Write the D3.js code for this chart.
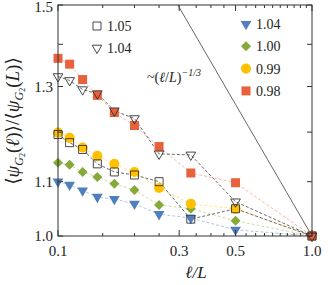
<!DOCTYPE html>
<html>
<head>
<meta charset="utf-8">
<script src="https://cdn.jsdelivr.net/npm/d3@7"></script>
<style>
  body { margin: 0; background: #fff; }
  text { font-family: "Liberation Serif", "DejaVu Serif", serif; fill: #222; }
</style>
</head>
<body>
<script>
// l/L values shared by every series
const ratios = [1/10, 1/9, 1/8, 1/7, 1/6, 1/5, 1/4, 1/3, 1/2, 1];

// filled series
const s098 = [1.366, 1.352, 1.316, 1.280, 1.242, 1.214, 1.170, 1.117, 1.098, 1.0];
const s099 = [1.199, 1.188, 1.168, 1.151, 1.135, 1.119, 1.088, 1.058, 1.049, 1.0];
const s100 = [1.137, 1.133, 1.119, 1.109, 1.096, 1.084, 1.056, 1.049, 1.027, 1.0];
const s104 = [1.100, 1.094, 1.083, 1.071, 1.067, 1.058, 1.039, 1.032, 1.011, 1.0];
// open series
const o105 = [1.195, 1.178, 1.164, 1.135, 1.119, 1.113, 1.100, 1.030, 1.049, 1.0];
const o104 = [1.323, 1.314, 1.293, 1.284, 1.246, 1.229, 1.155, 1.153, 1.062, 1.0];

const xTickLabels = [0.1, 0.3, 0.5, 1.0];
const yTickLabels = [1.0, 1.1, 1.3, 1.5];
const yTicks = [1.0, 1.1, 1.2, 1.3, 1.4, 1.5];
const xMinor = d3.range(0.1, 1.0001, 0.05);

const width = 328, height = 285;
const margin = {top: 5, right: 16, bottom: 49, left: 58};

const svg = d3.select("body").append("svg")
    .attr("width", width)
    .attr("height", height);

const x = d3.scaleLog().domain([0.1, 1]).range([margin.left, width - margin.right]);
const y = d3.scaleLog().domain([1, 1.5]).range([height - margin.bottom, margin.top]);

const series = [
  {vals: s104, sym: "tri", fill: "#4f7fbd", line: "#9bb7dc", open: false},
  {vals: s100, sym: "diamond", fill: "#87a93a", line: "#c3d68c", open: false},
  {vals: s099, sym: "circle", fill: "#ffc000", line: "#ffd970", open: false},
  {vals: s098, sym: "square", fill: "#e8603c", line: "#f3a88f", open: false},
  {vals: o105, sym: "square", fill: "#fff", line: "#444", open: true},
  {vals: o104, sym: "tri", fill: "#fff", line: "#444", open: true}
];

function marker(sel, sym, fill, open) {
  if (sym === "square") {
    sel.append("path").attr("d", d3.symbol(d3.symbolSquare, open ? 64 : 81)());
  } else if (sym === "circle") {
    sel.append("path").attr("d", d3.symbol(d3.symbolCircle, 80)());
  } else if (sym === "diamond") {
    sel.append("path").attr("d", d3.symbol(d3.symbolSquare, 50)()).attr("transform", "rotate(45)");
  } else {
    sel.append("path").attr("d", d3.symbol(d3.symbolTriangle, open ? 40 : 50)()).attr("transform", "rotate(180)");
  }
  sel.selectAll("path")
      .attr("fill", open ? "none" : fill)
      .attr("stroke", open ? "#333" : "none")
      .attr("stroke-width", open ? 0.9 : 0);
}

svg.append("clipPath").attr("id", "clip")
  .append("rect")
    .attr("x", margin.left).attr("y", margin.top)
    .attr("width", width - margin.left - margin.right)
    .attr("height", height - margin.top - margin.bottom);

// reference power law ~ (l/L)^(-1/3)
const refX = d3.range(0, 41).map(i => Math.pow(10, -1 + i / 40));
svg.append("path")
    .attr("clip-path", "url(#clip)")
    .attr("fill", "none")
    .attr("stroke", "#555")
    .attr("stroke-width", 0.9)
    .attr("d", d3.line().x(d => x(d)).y(d => y(Math.pow(d, -1/3)))(refX));

const line = d3.line().x((d, i) => x(ratios[i])).y(d => y(d));

series.forEach(s => {
  svg.append("path")
      .attr("fill", "none")
      .attr("stroke", s.line)
      .attr("stroke-width", 0.8)
      .attr("stroke-dasharray", "3,2")
      .attr("d", line(s.vals));
});

series.forEach(s => {
  svg.append("g").selectAll("g")
    .data(s.vals)
    .join("g")
      .attr("transform", (d, i) => `translate(${x(ratios[i])},${y(d)})`)
      .each(function() { marker(d3.select(this), s.sym, s.fill, s.open); });
});

// frame and ticks
const x0 = margin.left, x1 = width - margin.right, y0 = height - margin.bottom, y1 = margin.top;
svg.append("rect")
    .attr("x", x0).attr("y", y1)
    .attr("width", x1 - x0).attr("height", y0 - y1)
    .attr("fill", "none").attr("stroke", "#333").attr("stroke-width", 1);

const ticks = svg.append("g").attr("stroke", "#333").attr("stroke-width", 1);
xMinor.forEach(v => {
  const major = xTickLabels.some(t => Math.abs(t - v) < 1e-6);
  const len = major ? 6 : 3;
  ticks.append("line").attr("x1", x(v)).attr("x2", x(v)).attr("y1", y0).attr("y2", y0 - len);
  ticks.append("line").attr("x1", x(v)).attr("x2", x(v)).attr("y1", y1).attr("y2", y1 + len);
});
yTicks.forEach(v => {
  ticks.append("line").attr("x1", x0).attr("x2", x0 + 5).attr("y1", y(v)).attr("y2", y(v));
  ticks.append("line").attr("x1", x1).attr("x2", x1 - 5).attr("y1", y(v)).attr("y2", y(v));
});

svg.append("g").selectAll("text")
  .data(xTickLabels)
  .join("text")
    .attr("x", d => x(d))
    .attr("y", y0 + 20)
    .attr("text-anchor", "middle")
    .attr("font-size", 15)
    .text(d => d3.format(".1f")(d));

svg.append("g").selectAll("text")
  .data(yTickLabels)
  .join("text")
    .attr("x", x0 - 5)
    .attr("y", d => y(d) + 5)
    .attr("dy", d => d === 1.5 ? 1.5 : 0)
    .attr("text-anchor", "end")
    .attr("font-size", 15)
    .text(d => d3.format(".1f")(d));

// axis titles
svg.append("text")
    .attr("x", 196).attr("y", 278)
    .attr("text-anchor", "middle")
    .attr("font-size", 17)
    .attr("font-style", "italic")
    .text("ℓ/L");

const yl = svg.append("text")
    .attr("transform", "translate(19,121) rotate(-90)")
    .attr("text-anchor", "middle")
    .attr("font-size", 19);
yl.append("tspan").text("⟨");
yl.append("tspan").attr("font-style", "italic").text("ψ");
yl.append("tspan").attr("font-size", 12).attr("dy", 4).attr("font-style", "italic").text("G");
yl.append("tspan").attr("font-size", 8).attr("dy", 2).text("2");
yl.append("tspan").attr("dy", -6).text("(");
yl.append("tspan").attr("font-style", "italic").text("ℓ");
yl.append("tspan").text(")⟩/⟨");
yl.append("tspan").attr("font-style", "italic").text("ψ");
yl.append("tspan").attr("font-size", 12).attr("dy", 4).attr("font-style", "italic").text("G");
yl.append("tspan").attr("font-size", 8).attr("dy", 2).text("2");
yl.append("tspan").attr("dy", -6).text("(");
yl.append("tspan").attr("font-style", "italic").text("L");
yl.append("tspan").text(")⟩");

// power-law annotation
const ann = svg.append("text").attr("x", 147).attr("y", 82).attr("font-size", 14);
ann.append("tspan").text("~(");
ann.append("tspan").attr("font-style", "italic").text("ℓ");
ann.append("tspan").text("/");
ann.append("tspan").attr("font-style", "italic").text("L");
ann.append("tspan").text(")");
ann.append("tspan").attr("font-size", 10).attr("dy", -6).attr("font-style", "italic").text("−1/3");

// legends
const leftLeg = [{label: "1.05", s: series[4]}, {label: "1.04", s: series[5]}];
const rightLeg = [{label: "1.04", s: series[0]}, {label: "1.00", s: series[1]},
                  {label: "0.99", s: series[2]}, {label: "0.98", s: series[3]}];

leftLeg.forEach((d, i) => {
  const g = svg.append("g").attr("transform", `translate(97,${26 + i * 22})`);
  marker(g, d.s.sym, d.s.fill, d.s.open);
  g.append("text").attr("x", 10).attr("y", 5).attr("font-size", 14).text(d.label);
});
rightLeg.forEach((d, i) => {
  const g = svg.append("g").attr("transform", `translate(246,${24 + i * 22.3})`);
  marker(g, d.s.sym, d.s.fill, d.s.open);
  g.append("text").attr("x", 10).attr("y", 5).attr("font-size", 14).text(d.label);
});
</script>
</body>
</html>
